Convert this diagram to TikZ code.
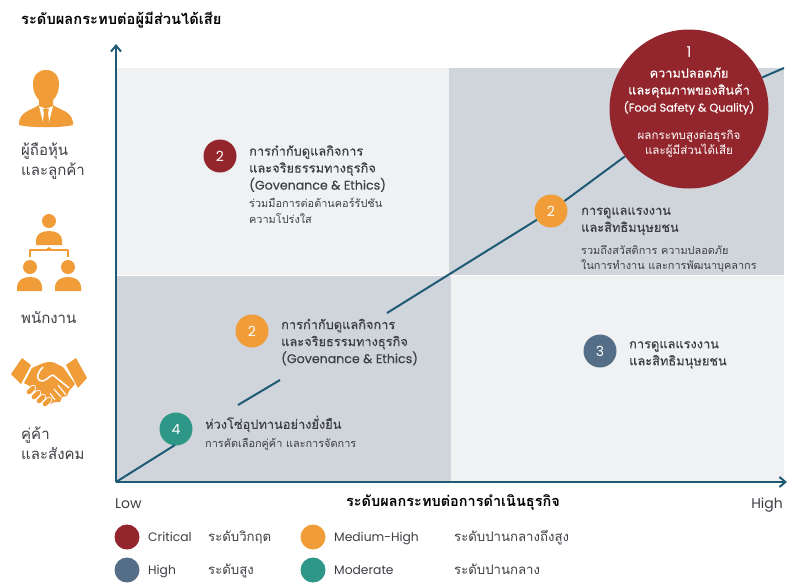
\documentclass[tikz,border=0pt]{standalone}
\usepackage{fontspec}
\usetikzlibrary{arrows.meta}
\newfontfamily\thf[Script=Thai]{Loma}
\newfontfamily\thm[Script=Thai,FakeBold=0.35]{Loma}
\newfontfamily\lat{Poppins}
\newfontfamily\latm[FakeBold=0.2]{Poppins}
\definecolor{axiscol}{HTML}{1F5A75}
\definecolor{lightp}{HTML}{F0F1F3}
\definecolor{darkp}{HTML}{D0D5DB}
\definecolor{crit}{HTML}{93262D}
\definecolor{medh}{HTML}{F09C38}
\definecolor{highc}{HTML}{546E87}
\definecolor{modc}{HTML}{2F9788}
\definecolor{txt}{HTML}{3C3F44}
\begin{document}
\begin{tikzpicture}[x=1pt,y=-1pt,
  lbl/.style={anchor=base west,inner sep=0pt,text=txt},
  head/.style={anchor=north west,inner sep=0pt,align=left,text=txt,font=\thm\fontsize{12.8}{17}\selectfont},
  sub/.style={anchor=north west,inner sep=0pt,align=left,text=txt,font=\thf\fontsize{10.9}{15.5}\selectfont},
  badge/.style={circle,minimum size=33pt,inner sep=0pt,text=white,font=\lat\fontsize{14}{15}\selectfont},
  key/.style={circle,minimum size=25pt,inner sep=0pt},
  diag/.style={draw=axiscol,line width=2pt},
  axis/.style={draw=axiscol,line width=2pt,-{Straight Barb[length=6pt,width=10pt]}},
  stake/.style={inner sep=0pt,align=left,text=txt,font=\thf\fontsize{15}{20}\selectfont},
  ltitle/.style={inner sep=0pt,text=black,font=\thf\bfseries\fontsize{14.7}{16}\selectfont},
  keylat/.style={lbl,font=\lat\fontsize{12.3}{14}\selectfont},
  keyth/.style={lbl,font=\thf\fontsize{13.2}{14}\selectfont},
  ico/.style={fill=medh,draw=none}]
\useasboundingbox (0,0) rectangle (787,582);
\fill[white] (0,0) rectangle (787,582);
\fill[lightp] (116,68) rectangle (449,275);
\fill[darkp] (449,68) rectangle (784,275);
\fill[darkp] (116,276) rectangle (451,482);
\fill[lightp] (451,276) rectangle (784,482);
% axes
\coordinate (org) at (116,482);
\coordinate (ytop) at (116,44);
\coordinate (xend) at (787,482);
\draw[axis] (org) -- (ytop);
\draw[axis] (org) -- (xend);
% badges
\node[circle,fill=crit,minimum size=159pt,inner sep=0pt] (n1) at (689,109) {};
\node[badge,fill=medh] (n2b) at (551,211) {2};
\node[badge,fill=crit] (n2a) at (220,156) {2};
\node[badge,fill=medh] (n2c) at (252,331) {2};
\node[badge,fill=highc] (n3) at (600,351) {3};
\node[badge,fill=modc] (n4) at (176,429) {4};
% diagonal
\coordinate (d1) at (175,445);
\coordinate (d2) at (238,405);
\coordinate (d3) at (280,380);
\coordinate (d4) at (387,313);
\coordinate (d5) at (784,68);
\draw[diag] (org) -- (d1);
\draw[diag] (d2) -- (d3);
\draw[diag] (d4) -- (n2b);
\draw[diag] (n2b) -- (n1);
\draw[diag] (n1) -- (d5);
% circle 1 text
\node[text=white,font=\lat\fontsize{15}{16}\selectfont,inner sep=0pt] (t0) at (689,52) {1};
\node[align=center,text=white,inner sep=0pt,font=\thm\fontsize{12.7}{17}\selectfont] (t1) at (689,91) {ความปลอดภัย\\และคุณภาพของสินค้า\\{\latm\fontsize{11.3}{17}\selectfont (Food Safety \& Quality)}};
\node[align=center,text=white,inner sep=0pt,font=\thf\fontsize{11.6}{15}\selectfont] (t2) at (689,144) {ผลกระทบสูงต่อธุรกิจ\\และผู้มีส่วนได้เสีย};
% texts
\node[head] (h2a) at (249,145) {การกำกับดูแลกิจการ\\และจริยธรรมทางธุรกิจ\\{\latm\fontsize{12.6}{16.5}\selectfont (Govenance \& Ethics)}};
\node[sub] (s2a) at (249,198) {ร่วมมือการต่อต้านคอร์รัปชัน\\ความโปร่งใส};
\node[head] (h2b) at (581,207.5) {การดูแลแรงงาน\\และสิทธิมนุษยชน};
\node[sub] (s2b) at (581,245) {รวมถึงสวัสดิการ ความปลอดภัย\\ในการทำงาน และการพัฒนาบุคลากร};
\node[head] (h2c) at (281,318.5) {การกำกับดูแลกิจการ\\และจริยธรรมทางธุรกิจ\\{\latm\fontsize{12.6}{16.5}\selectfont (Govenance \& Ethics)}};
\node[head] (h3) at (629,341) {การดูแลแรงงาน\\และสิทธิมนุษยชน};
\node[head] (h4) at (205,415.5) {ห่วงโซ่อุปทานอย่างยั่งยืน};
\node[sub] (s4) at (205,438) {การคัดเลือกคู่ค้า และการจัดการ};
% titles
\node[ltitle,anchor=west] (ty) at (21,20) {ระดับผลกระทบต่อผู้มีส่วนได้เสีย};
\node[ltitle,anchor=center,font=\thf\bfseries\fontsize{14.5}{16}\selectfont] (tx) at (453,502) {ระดับผลกระทบต่อการดำเนินธุรกิจ};
\node[lbl,font=\lat\fontsize{14}{14}\selectfont] (low) at (115,508) {Low};
\node[lbl,anchor=base east,font=\lat\fontsize{14}{14}\selectfont] (hi) at (783,508) {High};
% stakeholders
\node[stake,anchor=north west] (s1) at (21,143) {ผู้ถือหุ้น\\และลูกค้า};
\node[stake,anchor=west] (s2) at (21,318) {พนักงาน};
\node[stake,anchor=north west] (s3) at (21,427) {คู่ค้า\\และสังคม};
% legend
\node[key,fill=crit] (k1) at (127,537) {};
\node[key,fill=highc] (k2) at (127,570) {};
\node[key,fill=medh] (k3) at (313,537) {};
\node[key,fill=modc] (k4) at (313,570) {};
\node[keylat] (c1) at (148,541.5) {Critical};
\node[keylat] (c2) at (148,574.5) {High};
\node[keylat] (c3) at (334,541.5) {Medium-High};
\node[keylat] (c4) at (334,574.5) {Moderate};
\node[keyth] (c5) at (208,541.5) {ระดับวิกฤต};
\node[keyth] (c6) at (208,574.5) {ระดับสูง};
\node[keyth] (c7) at (454,541.5) {ระดับปานกลางถึงสูง};
\node[keyth] (c8) at (454,574.5) {ระดับปานกลาง};
% icon: person in suit
\fill[ico] (46,70) .. controls (37,70) and (33,76) .. (33,85) .. controls (33,92) and (36,97) .. (39,100) -- (39,105)
  .. controls (32,110) and (21,111) .. (19,122) -- (19,125) .. controls (30,128) and (62,128) .. (73,125) -- (73,122)
  .. controls (71,111) and (60,110) .. (53,105) -- (53,100) .. controls (56,97) and (59,92) .. (59,85) .. controls (59,76) and (55,70) .. (46,70) -- cycle;
\fill[white] (39,106) -- (46,109) -- (53,106) -- (49,122) -- (43,122) -- cycle;
\fill[ico] (43,109) -- (49,109) -- (48,113) -- (49,121) -- (46,125) -- (43,121) -- (44,113) -- cycle;
% icon: org
\fill[ico] (49,221) circle (7);
\fill[ico] (36,245) -- (36,240) .. controls (36,234) and (42,231) .. (49,231) .. controls (56,231) and (62,234) .. (62,240) -- (62,245) -- cycle;
\draw[medh,line width=2.6pt,line join=round] (30,257) -- (30,250) -- (68,250) -- (68,257);
\fill[ico] (49,247) -- (45,250) -- (53,250) -- cycle;
\fill[ico] (30,267) circle (7);
\fill[ico] (17,291) -- (17,288) .. controls (17,280) and (23,277) .. (30,277) .. controls (37,277) and (42,280) .. (42,288) -- (42,291) -- cycle;
\fill[ico] (68,267) circle (7);
\fill[ico] (55,291) -- (55,288) .. controls (55,280) and (61,277) .. (68,277) .. controls (75,277) and (81,280) .. (81,288) -- (81,291) -- cycle;
% icon: handshake
\fill[ico] (11,374) -- (22,358) -- (31,365) -- (21,384) -- cycle;
\fill[ico] (66,365) -- (76,358) -- (87,378) -- (78,388) -- cycle;
\fill[ico] (32,368) -- (41,364) .. controls (46,362) and (51,361) .. (55,363) -- (63,367) -- (75,384) -- (69,391) -- (67,396) -- (62,397) -- (60,402) -- (55,402) -- (50,404) -- (28,385) -- (24,383) -- cycle;
\draw[white,line width=1.5pt,line join=round] (43,367) .. controls (36,374) and (36,381) .. (42,381) .. controls (46,381) and (49,376) .. (53,375) -- (69,388);
\draw[white,line width=1.1pt] (58,385) -- (66,395) (54,389) -- (61,397) (50,393) -- (55,400);
\foreach \xa/\ya in {31/390,36/395,41/399,47/402}{
  \draw[white,line width=6.4pt,line cap=round] (\xa+2,\ya-2) -- (\xa-2,\ya+2);
  \draw[medh,line width=4.6pt,line cap=round] (\xa+2,\ya-2) -- (\xa-2,\ya+2);
}
\end{tikzpicture}
\end{document}
